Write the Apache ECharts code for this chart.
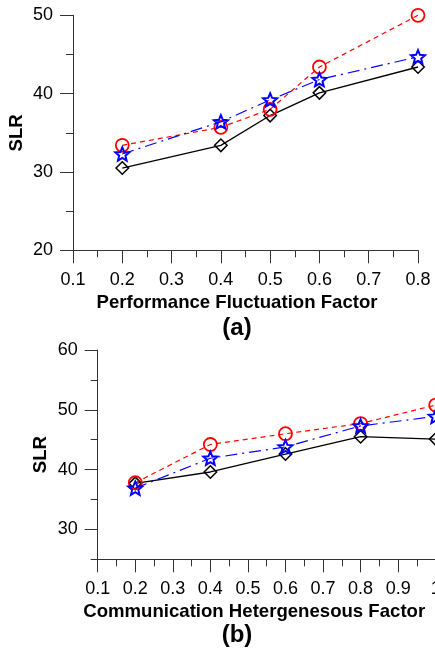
<!DOCTYPE html>
<html><head><meta charset="utf-8">
<script src="https://cdn.jsdelivr.net/npm/echarts@6/dist/echarts.min.js"></script>
<style>html,body{margin:0;padding:0;background:#fff}#c{width:435px;height:649px}</style>
</head><body><div id="c"></div>
<script>
// ---- data ----
const xA = [0.2, 0.4, 0.5, 0.6, 0.8];
const diamondA = [30.5, 33.4, 37.2, 40.1, 43.4];
const circleA = [33.4, 35.7, 38.0, 43.4, 50.0];
const starA = [32.3, 36.4, 39.2, 41.8, 44.7];
const xB = [0.2, 0.4, 0.6, 0.8, 1.0];
const diamondB = [37.7, 39.6, 42.6, 45.5, 45.1];
const circleB = [37.8, 44.2, 46.0, 47.7, 50.8];
const starB = [36.9, 41.9, 43.8, 47.3, 48.9];
const yMajorB = [30, 40, 50, 60];
const titleA = 'Performance Fluctuation Factor';
const titleB = 'Communication Hetergenesous Factor';
const yTitle = 'SLR';

// ---- styles ----
const FONT = 'Liberation Sans, Arial, sans-serif';
const AX = '#333';
const STAR = 'path://M0,-10L2.645,-3.641L9.511,-3.09L4.28,1.391L5.878,8.09L0,4.5L-5.878,8.09L-4.28,1.391L-9.511,-3.09L-2.645,-3.641Z';
const pairs = (xs, ys) => xs.map((x, i) => [x, ys[i]]);

function xAxis(gi, max, name, padRight) {
  return {
    type: 'value', gridIndex: gi, min: 0.1, max: max, interval: 0.1,
    axisLine: {show: true, lineStyle: {color: AX, width: 1}},
    axisTick: {show: true, inside: false, length: 13, lineStyle: {color: AX}},
    minorTick: {show: true, splitNumber: 2, length: 7, lineStyle: {color: AX}},
    splitLine: {show: false}, minorSplitLine: {show: false},
    axisLabel: {color: '#000', fontSize: 18, fontFamily: FONT, margin: 21,
      formatter: v => String(Math.round(v * 10) / 10)},
    name: name, nameLocation: 'middle', nameGap: 43,
    nameTextStyle: {color: '#000', fontSize: 18.6, fontWeight: 'bold', fontFamily: FONT,
      padding: [0, padRight, 0, 0]}
  };
}

function series(gi, xs, ys, kind) {
  const base = {type: 'line', xAxisIndex: gi, yAxisIndex: gi === 0 ? 0 : 1,
    data: pairs(xs, ys), animation: false, clip: false};
  if (kind === 'd') return Object.assign(base, {
    symbol: 'diamond', symbolSize: 12.5,
    lineStyle: {color: '#000', width: 1.3, type: 'solid'},
    itemStyle: {color: 'rgba(255,255,255,0)', borderColor: '#000', borderWidth: 1.5}, z: 2});
  if (kind === 'c') return Object.assign(base, {
    symbol: 'circle', symbolSize: 13,
    lineStyle: {color: '#ff0000', width: 1.2, type: [5, 4]},
    itemStyle: {color: 'rgba(255,255,255,0)', borderColor: '#ff0000', borderWidth: 1.8}, z: 3});
  return Object.assign(base, {
    symbol: STAR, symbolSize: 14, symbolKeepAspect: true,
    lineStyle: {color: '#0000ff', width: 1.2, type: [12, 5, 2, 5]},
    itemStyle: {color: 'rgba(255,255,255,0)', borderColor: '#0000ff', borderWidth: 2}, z: 4});
}

const yName = {
  name: yTitle, nameLocation: 'middle', nameGap: 47, nameRotate: 90, nameMoveOverlap: false,
  nameTextStyle: {color: '#000', fontSize: 18.6, fontWeight: 'bold', fontFamily: FONT}
};

const option = {
  backgroundColor: '#fff',
  animation: false,
  grid: [
    {left: 73, top: 15.3, right: 17, bottom: 398.7, outerBoundsMode: 'none', containLabel: false},
    {left: 97.7, top: 350, right: -0.7, bottom: 89.7, outerBoundsMode: 'none', containLabel: false}
  ],
  xAxis: [xAxis(0, 0.8, titleA, 17), xAxis(1, 1.0, titleB, 25)],
  yAxis: [
    Object.assign({
      type: 'value', gridIndex: 0, min: 20, max: 50, interval: 10,
      axisLine: {show: true, lineStyle: {color: AX}},
      axisTick: {show: true, inside: false, length: 13, lineStyle: {color: AX}},
      minorTick: {show: true, splitNumber: 2, length: 7, lineStyle: {color: AX}},
      splitLine: {show: false}, minorSplitLine: {show: false},
      axisLabel: {color: '#000', fontSize: 18, fontFamily: FONT, margin: 20}
    }, yName),
    Object.assign({
      type: 'value', gridIndex: 1, min: 25, max: 60, interval: 5,
      axisLine: {show: true, lineStyle: {color: AX}},
      axisTick: {show: true, inside: false, length: 7, lineStyle: {color: AX}},
      splitLine: {show: false},
      axisLabel: {color: '#000', fontSize: 18, fontFamily: FONT, margin: 20,
        formatter: v => (v % 10 === 0 ? String(v) : '')}
    }, yName),
    {
      type: 'value', gridIndex: 1, min: 25, max: 60, position: 'left',
      axisLine: {show: false},
      axisTick: {show: true, inside: false, length: 13, lineStyle: {color: AX}, customValues: yMajorB},
      axisLabel: {show: false, customValues: yMajorB},
      splitLine: {show: false}
    }
  ],
  graphic: [
    {type: 'text', x: 237, y: 328, style: {text: '(a)', fill: '#000', font: 'bold 24px ' + FONT, textAlign: 'center', textVerticalAlign: 'middle'}},
    {type: 'text', x: 237, y: 635, style: {text: '(b)', fill: '#000', font: 'bold 24px ' + FONT, textAlign: 'center', textVerticalAlign: 'middle'}}
  ],
  series: [
    series(0, xA, diamondA, 'd'), series(0, xA, circleA, 'c'), series(0, xA, starA, 's'),
    series(1, xB, diamondB, 'd'), series(1, xB, circleB, 'c'), series(1, xB, starB, 's')
  ]
};
const chart = echarts.init(document.getElementById('c'), null, {renderer: 'canvas'});
chart.setOption(option);
</script></body></html>
